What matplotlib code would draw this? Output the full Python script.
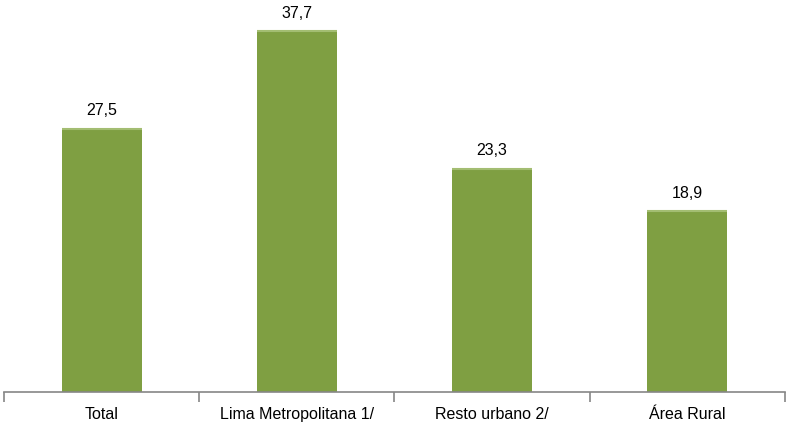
import matplotlib.pyplot as plt
import numpy as np

plt.rcParams['font.family'] = ['Liberation Sans', 'DejaVu Sans']

categories = ['Total', 'Lima Metropolitana 1/', 'Resto urbano 2/', 'Área Rural']
values = [27.5, 37.7, 23.3, 18.9]

fig = plt.figure(figsize=(7.89, 4.27), dpi=100)
ax = fig.add_axes([4 / 789, 34 / 427, 781 / 789, 383 / 427])

x = np.arange(len(categories))
bars = ax.bar(x, values, width=0.41, color='#7f9f42', edgecolor='none')
# light top edge on each bar
for b in bars:
    ax.plot([b.get_x(), b.get_x() + b.get_width()], [b.get_height()] * 2,
            color='#a3bd72', lw=1.5, solid_capstyle='butt')

for xi, v in zip(x, values):
    ax.text(xi, v + 1.2, f'{v:.1f}'.replace('.', ','), ha='center', va='bottom',
            fontsize=11.5, color='black')

ax.set_xlim(-0.5, len(categories) - 0.5)
ax.set_ylim(0, 40)
ax.set_yticks([])
for s in ['top', 'right', 'left']:
    ax.spines[s].set_visible(False)
ax.spines['bottom'].set_color('#868686')
ax.spines['bottom'].set_linewidth(1.2)

ax.set_xticks(np.arange(-0.5, len(categories)), minor=False)
ax.set_xticklabels([])
ax.tick_params(axis='x', length=7, color='#868686', width=1.2)
ax.set_xticks(x, minor=True)
ax.set_xticklabels(categories, minor=True, fontsize=11.5)
ax.tick_params(axis='x', which='minor', length=0, pad=10)

fig.savefig('out.png', dpi=100)
